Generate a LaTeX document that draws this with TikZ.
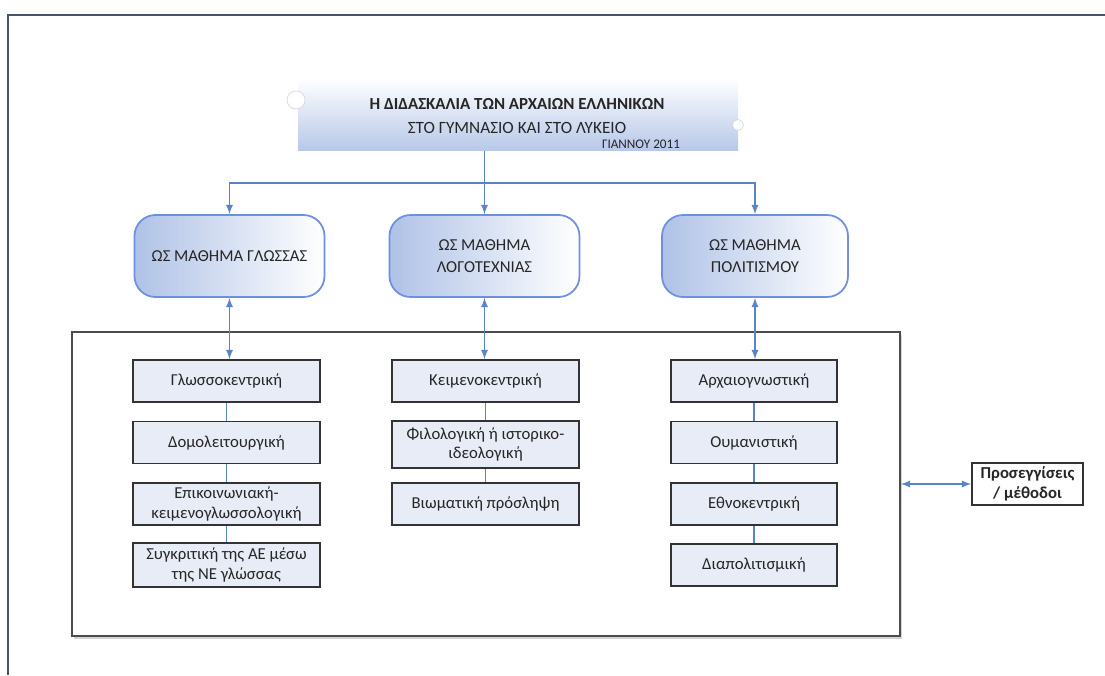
\documentclass[tikz,border=0pt]{standalone}
\usepackage{fontspec}
\setmainfont{Carlito}
\usetikzlibrary{shadows}
\pgfdeclarelayer{bg}
\pgfsetlayers{bg,main}
\definecolor{linkblue}{HTML}{5B83C9}
\definecolor{boxedge}{HTML}{6F8FE0}
\definecolor{boxblue}{HTML}{AFC2E6}
\definecolor{itemfill}{HTML}{E7ECF6}
\definecolor{pageedge}{HTML}{44546A}
\definecolor{txt}{HTML}{262626}
\tikzset{
  lesson/.style={draw=boxedge, line width=1pt, rounded corners=0.42cm,
    left color=boxblue, right color=white, minimum width=3.8cm,
    minimum height=1.64cm, align=center, text=txt, font=\fontsize{9.5}{12.5}\selectfont},
  method/.style={draw=black!80, line width=1pt, fill=itemfill, align=center,
    minimum width=3.74cm, minimum height=0.84cm, inner sep=1pt, text=txt,
    drop shadow={shadow xshift=0.5pt, shadow yshift=-0.5pt, opacity=0.4},
    font=\fontsize{9.5}{11}\selectfont},
  link/.style={draw=linkblue, line width=0.8pt},
}
\begin{document}
\begin{tikzpicture}
        \useasboundingbox (0cm, 0cm) rectangle (22.1cm, -13.5cm);
        % page edge
        \draw [pageedge, line width=1.2pt] (0.16cm, -13.5cm) -- (0.16cm, -0.30cm) -- (22.1cm, -0.30cm);
        % title banner
        \node (t) [top color=white, bottom color=boxblue!90, minimum width=8.8cm, minimum height=1.44cm] at (10.36cm, -2.28cm) {};
        \node (c1) [circle, fill=white, draw=black!15, minimum size=0.36cm, inner sep=0pt] at (5.92cm, -2.00cm) {};
        \node (c2) [circle, fill=white, draw=black!15, minimum size=0.22cm, inner sep=0pt] at (14.76cm, -2.50cm) {};
        \node (t1) [text=txt, font=\fontsize{9.6}{10}\selectfont\bfseries] at (10.34cm, -2.08cm) {Η ΔΙΔΑΣΚΑΛΙΑ ΤΩΝ ΑΡΧΑΙΩΝ ΕΛΛΗΝΙΚΩΝ};
        \node (t2) [text=txt, font=\fontsize{9.8}{10}\selectfont] at (10.34cm, -2.55cm) {ΣΤΟ ΓΥΜΝΑΣΙΟ ΚΑΙ ΣΤΟ ΛΥΚΕΙΟ};
        \node (t3) [text=txt, font=\fontsize{7.5}{8}\selectfont] at (12.82cm, -2.89cm) {ΓΙΑΝΝΟΥ 2011};
        % three lessons
        \node (m1) [lesson] at (4.59cm, -5.12cm) {ΩΣ ΜΑΘΗΜΑ ΓΛΩΣΣΑΣ};
        \node (m2) [lesson] at (9.69cm, -5.12cm) {ΩΣ ΜΑΘΗΜΑ\\ΛΟΓΟΤΕΧΝΙΑΣ};
        \node (m3) [lesson, minimum width=3.72cm] at (15.10cm, -5.12cm) {ΩΣ ΜΑΘΗΜΑ\\ΠΟΛΙΤΙΣΜΟΥ};
        \coordinate (j) at (9.69cm, -3.66cm);
        % frame and approaches
        \node (frame) [draw=black!70, line width=1pt, fill=white, minimum width=16.56cm, minimum height=6.08cm,
                drop shadow={shadow xshift=1pt, shadow yshift=-1.5pt, opacity=0.35}] at (9.72cm, -9.68cm) {};
        \node (g1) [method] at (4.53cm, -7.62cm) {Γλωσσοκεντρική};
        \node (g2) [method] at (4.53cm, -8.85cm) {Δομολειτουργική};
        \node (g3) [method] at (4.53cm, -10.08cm) {Επικοινωνιακή-\\κειμενογλωσσολογική};
        \node (g4) [method, minimum height=0.88cm] at (4.53cm, -11.30cm) {Συγκριτική της ΑΕ μέσω\\της ΝΕ γλώσσας};
        \node (l1) [method] at (9.71cm, -7.62cm) {Κειμενοκεντρική};
        \node (l2) [method, minimum height=0.94cm] at (9.71cm, -8.89cm) {Φιλολογική ή ιστορικο-\\ιδεολογική};
        \node (l3) [method] at (9.71cm, -10.08cm) {Βιωματική πρόσληψη};
        \node (p1) [method, minimum width=3.32cm] at (15.08cm, -7.62cm) {Αρχαιογνωστική};
        \node (p2) [method, minimum width=3.32cm] at (15.08cm, -8.85cm) {Ουμανιστική};
        \node (p3) [method, minimum width=3.32cm] at (15.08cm, -10.08cm) {Εθνοκεντρική};
        \node (p4) [method, minimum width=3.32cm] at (15.08cm, -11.30cm) {Διαπολιτισμική};
        \node (approach) [draw=black!80, line width=1pt, fill=white, minimum width=2.22cm, minimum height=0.84cm,
                align=center, inner sep=1pt, text=txt, font=\fontsize{9.5}{11}\selectfont\bfseries] at (20.55cm, -9.68cm) {Προσεγγίσεις\\/ μέθοδοι};
        \begin{pgfonlayer}{bg}
                \draw [link] (m2.north |- t.south) -- (j);
                \draw [link, -latex] (j) -| (m1.north);
                \draw [link, -latex] (j) -- (m2.north);
                \draw [link, -latex] (j) -| (m3.north);
        \end{pgfonlayer}
        \draw [link, latex-latex] (m1.south) -- (m1.south |- g1.north);
        \draw [link, latex-latex] (m2.south) -- (m2.south |- l1.north);
        \draw [link, latex-latex] (m3.south) -- (m3.south |- p1.north);
        \draw [link] (g1) -- (g2);
        \draw [link] (g2) -- (g3);
        \draw [link] (g3) -- (g4);
        \draw [link] (l1) -- (l2);
        \draw [link] (l2) -- (l3);
        \draw [link] (p1) -- (p2);
        \draw [link] (p2) -- (p3);
        \draw [link] (p3) -- (p4);
        \draw [link, latex-latex] (frame.east) -- (approach.west);
\end{tikzpicture}
\end{document}
